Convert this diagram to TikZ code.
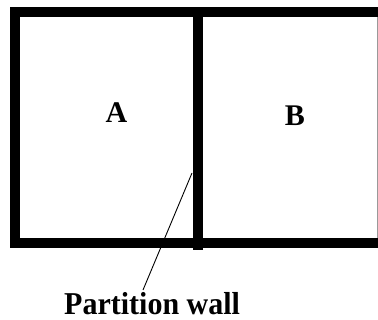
\documentclass[tikz,border=0pt]{standalone}
\usepackage{fontspec}
\setmainfont{Liberation Serif}
\tikzset{
  wall/.style={line width=10pt, line join=miter, line cap=butt, black},
  edgewall/.style={line width=1.4pt, black!40},
  leader/.style={line width=0.9pt, black},
  roomlabel/.style={font=\fontsize{30}{32}\selectfont\bfseries, inner sep=0pt},
  walllabel/.style={font=\fontsize{30}{32}\selectfont\bfseries, inner sep=0pt, text depth=0pt, anchor=base west, yscale=1.06}
}
\begin{document}
\begin{tikzpicture}[x=1pt,y=-1pt]
\useasboundingbox (0,0) rectangle (378,320);
\clip (0,0) rectangle (378,320);
\draw[wall] (380,12) -- (14.5,12) -- (14.5,243.5) -- (380,243.5);
\draw[wall] (198,12) -- (198,250);
\draw[edgewall] (377.3,17) -- (377.3,238.5);
\node[roomlabel] (A) at (116.5,112.5) {A};
\node[roomlabel] (B) at (295,115.5) {B};
\coordinate (wallpt) at (192,173);
\node[walllabel] (pw) at (64,314.5) {Partition wall};
\coordinate (lblpt) at (143,290);
\draw[leader] (wallpt) -- (lblpt);
\end{tikzpicture}
\end{document}
